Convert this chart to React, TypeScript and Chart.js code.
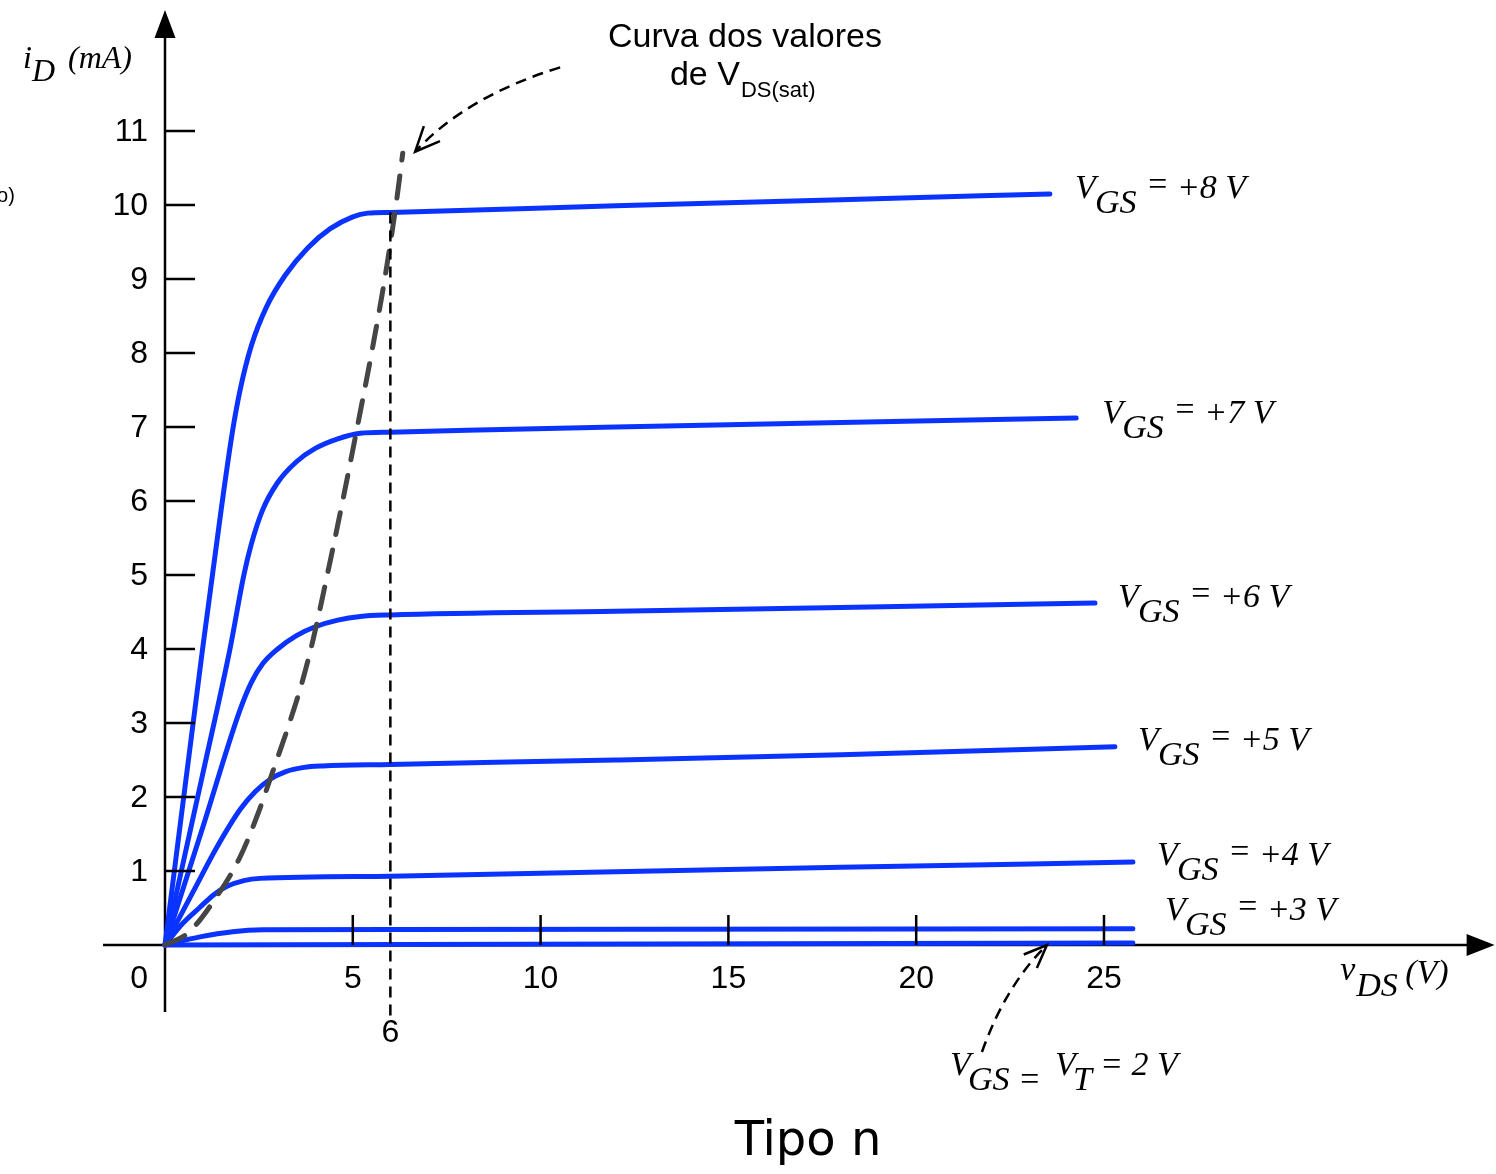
import React, { useEffect, useRef } from "react";
import { Chart, registerables } from "chart.js";

Chart.register(...registerables);

type Pt = [number, number];

// ---------------- data ----------------
const vdsTicks = [5, 10, 15, 20, 25];
const idTicks = [1, 2, 3, 4, 5, 6, 7, 8, 9, 10, 11];
const vgsLevels = ["+8", "+7", "+6", "+5", "+4", "+3"];
const vdsSatValue = 6;

const curveVgs8: Pt[] = [[0, 0], [1.0, 4.0], [1.5, 5.9], [1.8, 6.95], [2.0, 7.5], [2.3, 8.1], [2.7, 8.62], [3.2, 9.05], [3.8, 9.42], [4.4, 9.68], [5.0, 9.84], [5.4, 9.89], [6, 9.9], [12, 9.99], [18, 10.07], [23.56, 10.15]];
const curveVgs7: Pt[] = [[0, 0], [1.0, 2.3], [1.73, 4.0], [2.1, 5.0], [2.3, 5.42], [2.6, 5.88], [3.0, 6.25], [3.5, 6.53], [4.0, 6.71], [4.6, 6.84], [5.2, 6.915], [6, 6.93], [12, 7.0], [18, 7.06], [24.26, 7.12]];
const curveVgs6: Pt[] = [[0, 0], [1.0, 1.58], [2.0, 3.18], [2.3, 3.55], [2.6, 3.8], [3.0, 4.0], [3.5, 4.18], [4.0, 4.3], [4.6, 4.39], [5.2, 4.44], [6, 4.46], [12, 4.51], [18, 4.56], [24.76, 4.62]];
const curveVgs5: Pt[] = [[0, 0], [0.75, 0.72], [1.38, 1.32], [2.0, 1.83], [2.4, 2.07], [2.8, 2.24], [3.2, 2.34], [3.7, 2.4], [4.2, 2.42], [6, 2.44], [12, 2.5], [18, 2.57], [25.29, 2.68]];
const curveVgs4: Pt[] = [[0, 0], [0.45, 0.28], [0.93, 0.51], [1.3, 0.68], [1.64, 0.79], [2.1, 0.87], [2.53, 0.9], [6, 0.93], [12, 0.99], [18, 1.05], [25.77, 1.12]];
const curveVgs3: Pt[] = [[0, 0], [0.93, 0.11], [1.8, 0.18], [2.6, 0.205], [6, 0.208], [25.77, 0.22]];
const curveVgs2: Pt[] = [[0, 0], [25.77, 0.025]];
const satCurve: Pt[] = [[0, 0], [0.61, 0.16], [1.41, 0.68], [2.0, 1.19], [2.48, 1.78], [2.88, 2.36], [3.28, 2.95], [3.65, 3.55], [3.94, 4.12], [4.42, 5.24], [4.73, 6.0], [5.12, 7.0], [5.5, 8.0], [5.85, 9.0], [6.15, 10.0], [6.33, 10.7]];
const satMarkerSpan: Pt = [9.9, -1.0];

const labelledCurves = [curveVgs8, curveVgs7, curveVgs6, curveVgs5, curveVgs4, curveVgs3];

// ---------------- layout / style ----------------
const X_RANGE = { min: -4.393, max: 35.437 };
const Y_RANGE = { min: -3.095, max: 12.77 };
const Y_AXIS_SPAN: Pt = [-0.905, 12.635];
const X_AXIS_SPAN: Pt = [-1.65, 35.4];
const labelOffsets: Pt[] = [[25, 4], [26, 5], [23, 4], [23, 3], [24, 3], [32, -9]];

const BLUE = "#0b33ff";
const GRAY = "#454545";
const NUM_FONT = '32px "Liberation Sans", Arial, sans-serif';
const ITALIC = 'italic 34px "Liberation Serif", "Times New Roman", serif';
const ITALIC_SMALL = 'italic 32px "Liberation Serif", "Times New Roman", serif';

const toXY = (pts: Pt[]) => pts.map(([x, y]) => ({ x, y }));

const diagramPlugin = {
  id: "diagram",
  beforeDatasetsDraw(chart: any) {
    const ctx: CanvasRenderingContext2D = chart.ctx;
    const X = (v: number) => chart.scales.x.getPixelForValue(v);
    const Y = (v: number) => chart.scales.y.getPixelForValue(v);
    ctx.save();
    ctx.strokeStyle = "#000";
    ctx.fillStyle = "#000";
    ctx.lineWidth = 2.5;
    // y axis
    const yx = X(0);
    const yTip = Y(Y_AXIS_SPAN[1]);
    ctx.beginPath();
    ctx.moveTo(yx, Y(Y_AXIS_SPAN[0]));
    ctx.lineTo(yx, yTip + 20);
    ctx.stroke();
    ctx.beginPath();
    ctx.moveTo(yx, yTip);
    ctx.lineTo(yx - 10.5, yTip + 28);
    ctx.lineTo(yx + 10.5, yTip + 28);
    ctx.closePath();
    ctx.fill();
    // x axis
    const xy = Y(0);
    const xTip = X(X_AXIS_SPAN[1]);
    ctx.beginPath();
    ctx.moveTo(X(X_AXIS_SPAN[0]), xy);
    ctx.lineTo(xTip - 20, xy);
    ctx.stroke();
    ctx.beginPath();
    ctx.moveTo(xTip, xy);
    ctx.lineTo(xTip - 28, xy - 11);
    ctx.lineTo(xTip - 28, xy + 11);
    ctx.closePath();
    ctx.fill();
    ctx.restore();
  },
  afterDatasetsDraw(chart: any) {
    const ctx: CanvasRenderingContext2D = chart.ctx;
    const X = (v: number) => chart.scales.x.getPixelForValue(v);
    const Y = (v: number) => chart.scales.y.getPixelForValue(v);
    const x0 = X(0);
    const y0 = Y(0);
    ctx.save();
    ctx.strokeStyle = "#000";
    ctx.fillStyle = "#000";
    ctx.lineWidth = 2.5;
    ctx.setLineDash([]);
    // ticks
    ctx.beginPath();
    idTicks.forEach((v) => {
      ctx.moveTo(x0, Y(v));
      ctx.lineTo(x0 + 30, Y(v));
    });
    vdsTicks.forEach((v) => {
      ctx.moveTo(X(v), y0);
      ctx.lineTo(X(v), y0 - 30);
    });
    ctx.stroke();

    // tick labels
    ctx.font = NUM_FONT;
    ctx.textBaseline = "middle";
    ctx.textAlign = "right";
    idTicks.forEach((v) => ctx.fillText(String(v), x0 - 17, Y(v) + 1));
    ctx.fillText("0", x0 - 17, y0 + 34);
    ctx.textAlign = "center";
    vdsTicks.forEach((v) => ctx.fillText(String(v), X(v), y0 + 34));
    ctx.fillText(String(vdsSatValue), X(vdsSatValue), y0 + 88);

    const parts = (ax: number, ay: number, items: [string, number, number, string][]) => {
      ctx.textAlign = "left";
      ctx.textBaseline = "alphabetic";
      items.forEach(([t, dx, dy, f]) => {
        ctx.font = f;
        ctx.fillText(t, ax + dx, ay + dy);
      });
    };

    // curve labels
    labelledCurves.forEach((c, i) => {
      const [ex, ey] = c[c.length - 1];
      const [ox, oy] = labelOffsets[i];
      const ax = X(ex) + ox;
      const ay = Y(ey) + oy;
      parts(ax, ay, [
        ["V", 0, 0, ITALIC],
        ["GS", 20, 15, ITALIC],
        ["=", 71, -3, ITALIC],
        [vgsLevels[i] + " V", 102, 0, ITALIC],
      ]);
    });

    // V_GS = V_T = 2 V label
    parts(X(20.9), Y(-1.757), [
      ["V", 0, 0, ITALIC],
      ["GS", 18, 15, ITALIC],
      ["=", 68, 15, ITALIC],
      ["V", 105, 0, ITALIC],
      ["T", 123, 15, ITALIC],
      ["= 2 V", 150, 0, ITALIC],
    ]);

    // axis names
    parts(X(-3.78), Y(11.85), [
      ["i", 0, 0, ITALIC_SMALL],
      ["D", 9, 13, ITALIC_SMALL],
      ["(mA)", 45, 0, ITALIC_SMALL],
    ]);
    parts(X(31.29), Y(-0.473), [
      ["v", 0, 0, ITALIC],
      ["DS", 16, 16, ITALIC],
      ["(V)", 65, 3, ITALIC],
    ]);

    // VDS(sat) note
    const nx = X(15.44);
    const ny = Y(12.135);
    ctx.font = '34px "Liberation Sans", Arial, sans-serif';
    ctx.textAlign = "center";
    ctx.fillText("Curva dos valores", nx, ny);
    parts(nx, ny, [
      ["de V", -75, 38, '34px "Liberation Sans", Arial, sans-serif'],
      ["DS(sat)", -4, 50, '22px "Liberation Sans", Arial, sans-serif'],
    ]);

    // side fragment
    ctx.font = '20px "Liberation Sans", Arial, sans-serif';
    ctx.textAlign = "left";
    ctx.fillText("o)", X(-4.47), Y(10.04));

    // title
    ctx.font = '48px "DejaVu Sans", "Noto Sans", sans-serif';
    ctx.textAlign = "center";
    ctx.fillText("Tipo n", X(17.12), Y(-2.838));

    // dashed annotation arrows
    const arrow = (s: Pt, c: Pt, t: Pt, len: number, half: number) => {
      const sx = X(s[0]), sy = Y(s[1]);
      const cx = X(c[0]), cy = Y(c[1]);
      const tx = X(t[0]), ty = Y(t[1]);
      ctx.lineWidth = 2.5;
      ctx.setLineDash([11, 7]);
      ctx.beginPath();
      ctx.moveTo(sx, sy);
      ctx.quadraticCurveTo(cx, cy, tx, ty);
      ctx.stroke();
      ctx.setLineDash([]);
      const ang = Math.atan2(cy - ty, cx - tx);
      const h = (half * Math.PI) / 180;
      ctx.beginPath();
      ctx.moveTo(tx + len * Math.cos(ang + h), ty + len * Math.sin(ang + h));
      ctx.lineTo(tx, ty);
      ctx.lineTo(tx + len * Math.cos(ang - h), ty + len * Math.sin(ang - h));
      ctx.stroke();
    };
    arrow([10.52, 11.86], [8.03, 11.47], [6.66, 10.72], 27, 24);
    arrow([21.75, -1.446], [22.38, -0.547], [23.48, 0.0], 25, 22);

    ctx.restore();
  },
};

export default function App() {
  const ref = useRef<HTMLCanvasElement>(null);
  useEffect(() => {
    document.body.style.margin = "0";
    const blue = (pts: Pt[]) => ({
      data: toXY(pts),
      showLine: true,
      borderColor: BLUE,
      borderWidth: 5,
      pointRadius: 0,
      cubicInterpolationMode: "monotone" as const,
      borderCapStyle: "round" as const,
      borderJoinStyle: "round" as const,
      order: 3,
    });
    const chart = new Chart(ref.current!, {
      type: "scatter",
      data: {
        datasets: [
          {
            data: toXY([[vdsSatValue, satMarkerSpan[0]], [vdsSatValue, satMarkerSpan[1]]]),
            showLine: true,
            borderColor: "#000",
            borderWidth: 2.5,
            borderDash: [11, 7],
            pointRadius: 0,
            tension: 0,
            order: 1,
          },
          {
            data: toXY(satCurve),
            showLine: true,
            borderColor: GRAY,
            borderWidth: 5,
            borderDash: [22, 16],
            borderCapStyle: "round",
            pointRadius: 0,
            cubicInterpolationMode: "monotone",
            order: 2,
          },
          blue(curveVgs8),
          blue(curveVgs7),
          blue(curveVgs6),
          blue(curveVgs5),
          blue(curveVgs4),
          blue(curveVgs3),
          blue(curveVgs2),
        ] as any,
      },
      options: {
        responsive: false,
        maintainAspectRatio: false,
        devicePixelRatio: 1,
        animation: false,
        layout: { padding: 0 },
        plugins: { legend: { display: false }, tooltip: { enabled: false } },
        events: [],
        scales: {
          x: { type: "linear", display: false, min: X_RANGE.min, max: X_RANGE.max },
          y: { type: "linear", display: false, min: Y_RANGE.min, max: Y_RANGE.max },
        },
      },
      plugins: [diagramPlugin],
    });
    return () => chart.destroy();
  }, []);
  return (
    <div style={{ width: 1496, height: 1174, background: "#fff" }}>
      <canvas ref={ref} width={1496} height={1174} style={{ display: "block", width: 1496, height: 1174 }} />
    </div>
  );
}
